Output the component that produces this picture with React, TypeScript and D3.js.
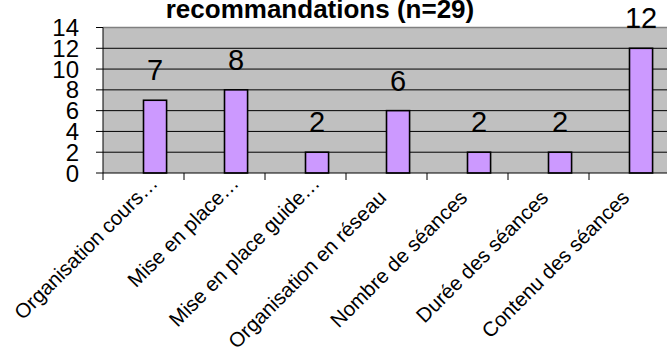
import React from "react";
import * as d3 from "d3";

const categories = [
  "Organisation cours…",
  "Mise en place…",
  "Mise en place guide…",
  "Organisation en réseau",
  "Nombre de séances",
  "Durée des séances",
  "Contenu des séances",
];
const values = [7, 8, 2, 6, 2, 2, 12];
const yTicks = [0, 2, 4, 6, 8, 10, 12, 14];
const title = "recommandations (n=29)";

const W = 667;
const H = 356;
const left = 103;
const right = 670;
const top = 27.5;
const bottom = 173;
const font = "'Liberation Sans', Arial, sans-serif";

export default function App() {
  const x = d3.scaleBand<string>().domain(categories).range([left, right]).padding(0);
  const y = d3.scaleLinear().domain([0, 14]).range([bottom, top]);
  const bw = x.bandwidth();
  const barW = bw * 0.285;

  return (
    <svg
      width={W}
      height={H}
      style={{ position: "absolute", left: 0, top: 0, background: "#fff" }}
    >
      <rect x={left} y={top} width={right - left} height={bottom - top} fill="#c0c0c0" />
      <line x1={left} x2={right} y1={top} y2={top} stroke="#808080" strokeWidth={1.5} />
      {yTicks.filter((t) => t > 0 && t < 14).map((t) => (
        <line key={t} x1={left} x2={right} y1={y(t)} y2={y(t)} stroke="#000" strokeWidth={1} />
      ))}
      {categories.map((c, i) => {
        const cx = (x(c) as number) + bw / 2;
        const v = values[i];
        return (
          <g key={c}>
            <rect
              x={cx}
              y={y(v)}
              width={barW}
              height={bottom - y(v)}
              fill="#cc99ff"
              stroke="#000"
              strokeWidth={1.6}
            />
            <text
              x={cx + barW / 2}
              y={y(v) - 20}
              textAnchor="middle"
              fontFamily={font}
              fontSize={29}
              fill="#000"
            >
              {v}
            </text>
          </g>
        );
      })}
      {/* y axis */}
      <line x1={left} x2={left} y1={top} y2={bottom} stroke="#000" strokeWidth={1} />
      {yTicks.map((t) => (
        <g key={t}>
          <line x1={left - 7} x2={left} y1={y(t)} y2={y(t)} stroke="#000" strokeWidth={1} />
          <text
            x={79}
            y={y(t)}
            dy="0.36em"
            textAnchor="end"
            fontFamily={font}
            fontSize={24}
            fill="#000"
          >
            {t}
          </text>
        </g>
      ))}
      {/* x axis */}
      <line x1={left} x2={right} y1={bottom} y2={bottom} stroke="#000" strokeWidth={1.2} />
      {categories.map((c) => (
        <line
          key={"t" + c}
          x1={x(c) as number}
          x2={x(c) as number}
          y1={bottom}
          y2={bottom + 7}
          stroke="#000"
          strokeWidth={1}
        />
      ))}
      {categories.map((c) => {
        const cx = (x(c) as number) + bw / 2;
        const hasEllipsis = c.endsWith("…");
        const main = hasEllipsis ? c.slice(0, -1) : c;
        return (
          <g key={"l" + c} transform={`translate(${cx + 1},${bottom + 26}) rotate(-45)`}>
            <text textAnchor="end" fontFamily={font} fontSize={20.5} fill="#000">
              {main}
            </text>
            {hasEllipsis && (
              <text textAnchor="start" fontFamily={font} fontSize={20.5} fill="#000">
                …
              </text>
            )}
          </g>
        );
      })}
      <text
        x={320}
        y={18}
        textAnchor="middle"
        fontFamily={font}
        fontSize={26}
        fontWeight="bold"
        fill="#000"
      >
        {title}
      </text>
    </svg>
  );
}
